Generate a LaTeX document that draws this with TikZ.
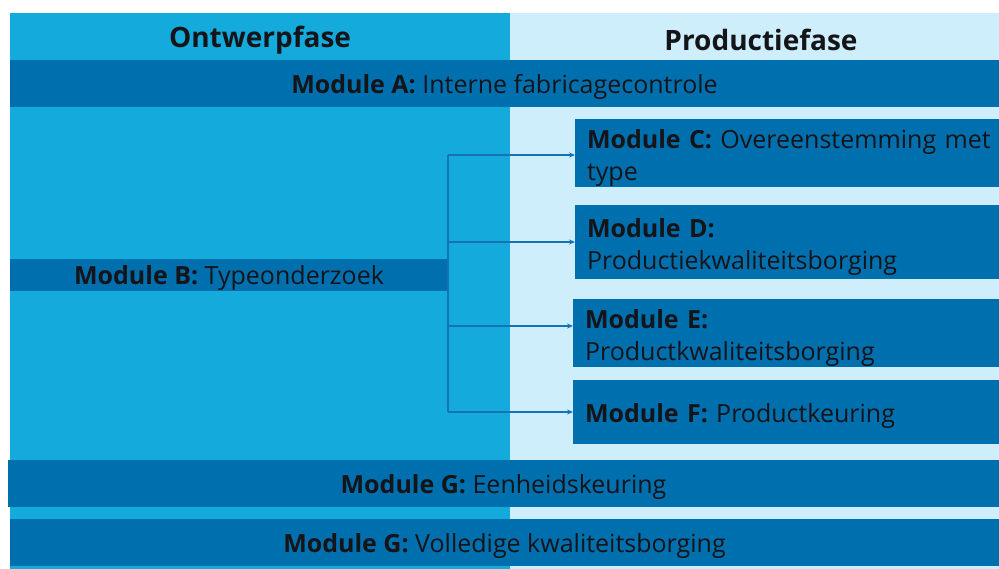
\documentclass[tikz,border=0pt]{standalone}
\usepackage{fontspec}
\setmainfont{Open Sans}
\usetikzlibrary{arrows.meta}
\definecolor{phaseA}{RGB}{21,170,220}
\definecolor{phaseB}{RGB}{205,238,250}
\definecolor{modblue}{RGB}{0,111,174}
\definecolor{linkblue}{RGB}{20,115,180}
\definecolor{ink}{RGB}{20,20,25}
% extra room above the first line of two-line module boxes
\newcommand\firstlinestrut{\rule{0pt}{30pt}}
\tikzset{
  every node/.style={font=\fontsize{25}{32}\selectfont, text=ink, inner sep=0pt, outer sep=0pt},
  oneline/.style={text height=20pt, text depth=0pt},
  phase/.style={font=\fontsize{28}{32}\selectfont\bfseries},
  bar/.style={fill=modblue, anchor=north west, align=center, oneline},
  modbox/.style={fill=modblue, anchor=north west, align=left, inner xsep=12pt,
    text width=420pt},
  link/.style={draw=linkblue, line width=1.4pt, -{Stealth[length=6pt,width=5pt]}},
  trunk/.style={draw=linkblue, line width=1.4pt}
}
\begin{document}
\begin{tikzpicture}[x=1pt,y=-1pt]
  \useasboundingbox (0,0) rectangle (999,569);
  \fill[white] (0,0) rectangle (999,569);
  % the two phase columns
  \fill[phaseA] (10,13) rectangle (510,569);
  \fill[phaseB] (510,13) rectangle (999,569);
  \node[phase] (hdA) at (260,40) {Ontwerpfase};
  \node[phase] (hdB) at (761,40) {Productiefase};
  % full-width module bars
  \node[bar, minimum width=989pt, minimum height=47pt] (A) at (10,60)
    {\textbf{Module A:} Interne fabricagecontrole};
  \node[bar, minimum width=438pt, minimum height=32pt] (B) at (10,259)
    {\textbf{Module B:} Typeonderzoek};
  \node[bar, minimum width=991pt, minimum height=47pt] (G1) at (8,460)
    {\textbf{Module G:} Eenheidskeuring};
  \node[bar, minimum width=989pt, minimum height=47pt] (G2) at (10,519)
    {\textbf{Module G:} Volledige kwaliteitsborging};
  % production-phase modules
  \node[modbox, minimum height=68pt] (C) at (575,119)
    {\firstlinestrut\textbf{Module C:} Overeenstemming met\\type};
  \node[modbox, minimum height=74pt] (D) at (575,205)
    {\firstlinestrut\textbf{Module D:}\\Productiekwaliteitsborging};
  \node[modbox, minimum height=65pt] (E) at (573,299)
    {\firstlinestrut\textbf{Module E:}\\Productkwaliteitsborging};
  \node[modbox, oneline, minimum height=64pt] (F) at (573,380)
    {\textbf{Module F:} Productkeuring};
  % branching connectors from module B
  \coordinate (jC) at ([yshift=-2pt]B.east |- C.west);
  \coordinate (jF) at (B.east |- F.west);
  \draw[trunk] (jC) -- (jF);
  \draw[link] (jC) -- ([yshift=-2pt]C.west);
  \draw[link] (B.east |- D.west) -- (D.west);
  \draw[link] ([yshift=7pt]B.east |- E.west) -- ([yshift=7pt]E.west);
  \draw[link] (jF) -- (F.west);
\end{tikzpicture}
\end{document}
